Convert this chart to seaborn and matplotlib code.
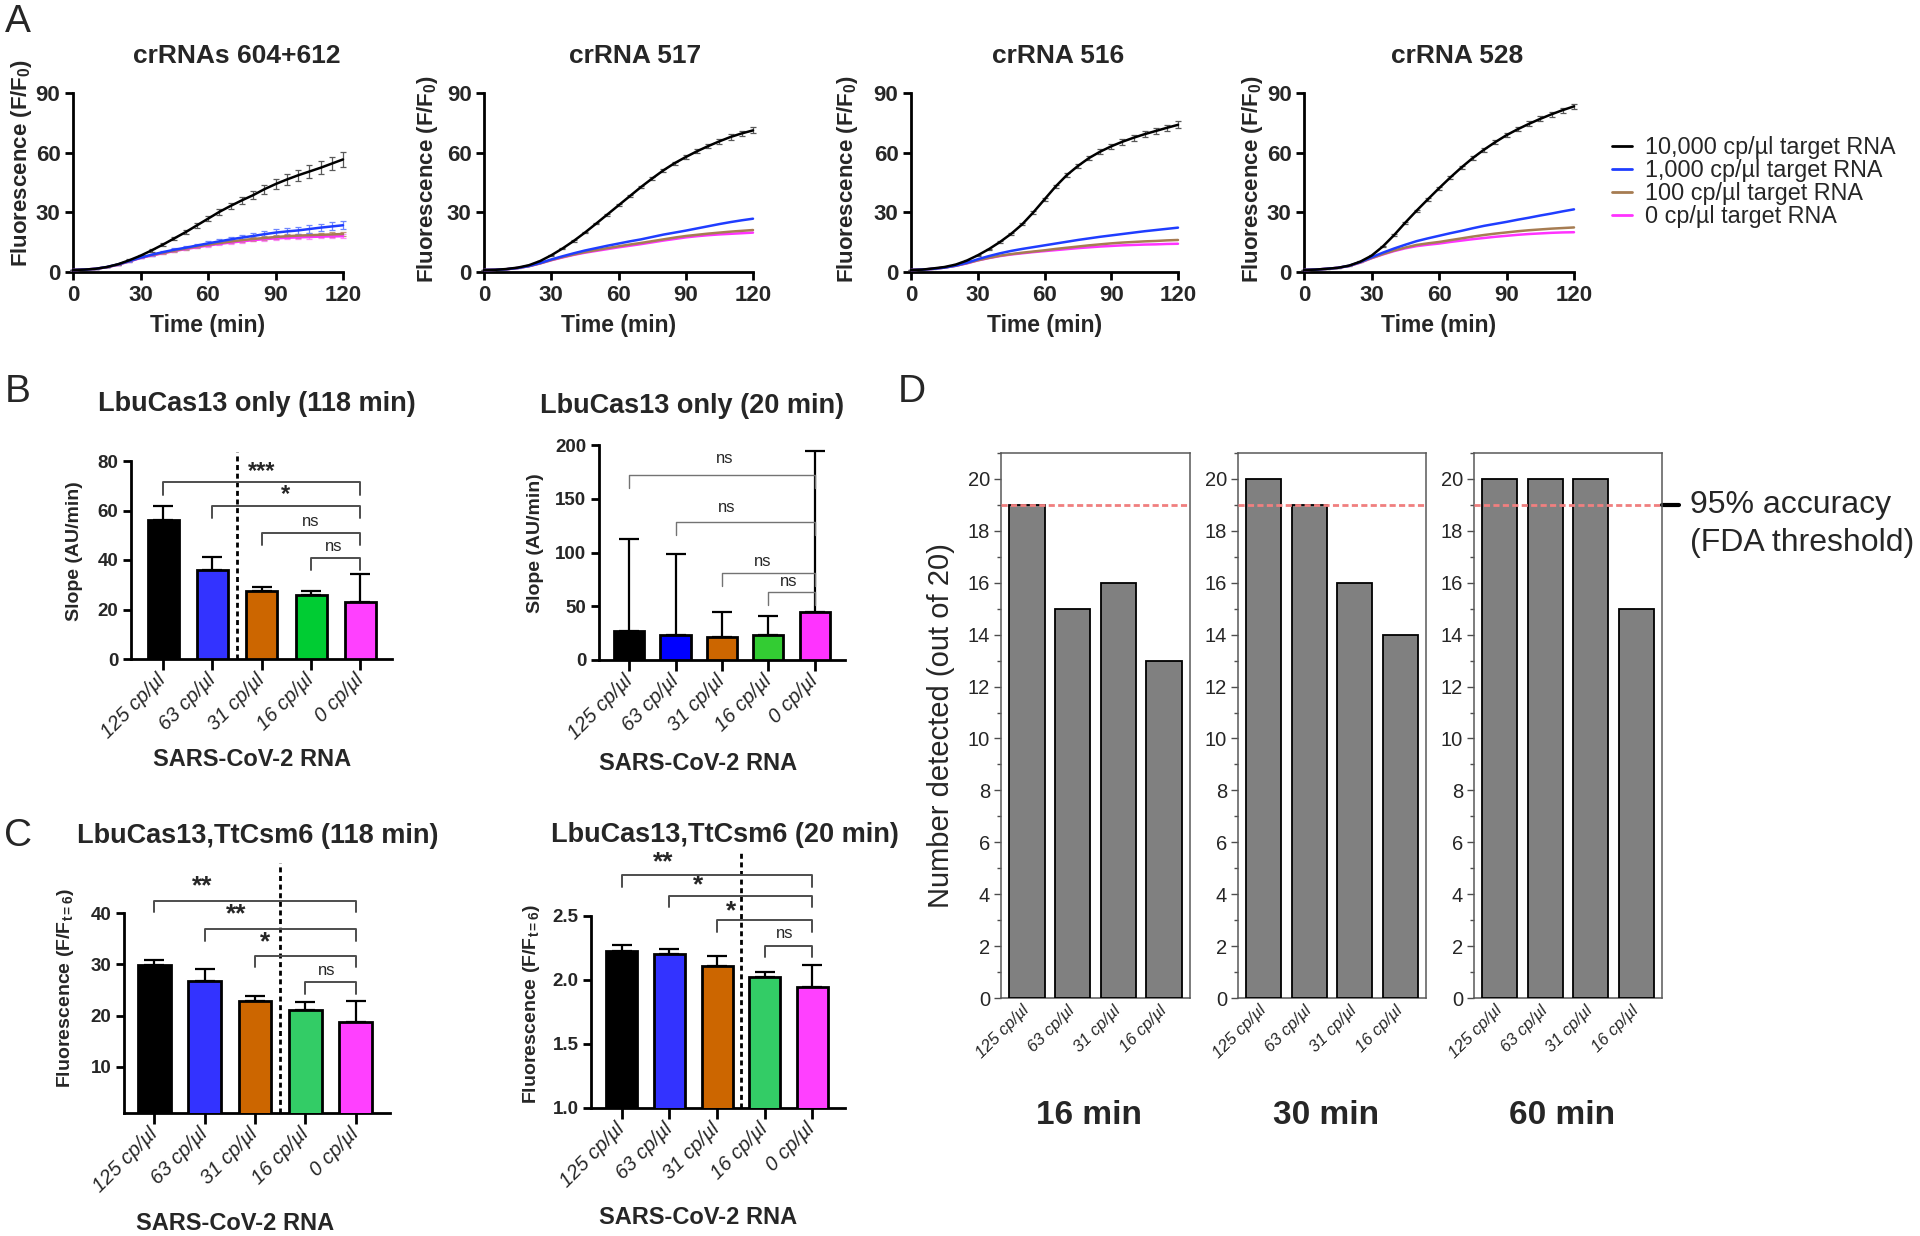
import matplotlib
matplotlib.use('Agg')
import matplotlib.pyplot as plt
import matplotlib.transforms as mtransforms
from matplotlib.lines import Line2D
from matplotlib.ticker import MultipleLocator
import seaborn as sns

sns.set_style('ticks')
plt.rcParams['font.family'] = ['Liberation Sans', 'DejaVu Sans']
plt.rcParams['mathtext.fontset'] = 'custom'
plt.rcParams['mathtext.rm'] = 'Liberation Sans'
plt.rcParams['mathtext.bf'] = 'Liberation Sans:bold'
plt.rcParams['mathtext.it'] = 'Liberation Sans:italic'

# ---------------- data ----------------
minutes = list(range(0, 121, 5))
series_names = ['10,000 cp/µl target RNA', '1,000 cp/µl target RNA',
                '100 cp/µl target RNA', '0 cp/µl target RNA']
line_colors = ['#000000', '#1f3dff', '#a67c52', '#ff33ff']
err_colors = ['0.35', '#6f86ff', '#c49a78', '#ff8cff']

# panel A: crRNAs 604+612
a1_10k = [1.0, 1.2, 1.6, 2.5, 3.9, 5.9, 8.2, 10.9, 13.8, 16.9, 20.0, 23.4, 26.8, 30.2, 33.2, 36.0, 38.6, 41.6, 44.2, 46.5, 48.6, 50.5, 52.4, 54.5, 56.6]
a1_1k = [1.0, 1.2, 1.6, 2.5, 3.8, 5.5, 7.2, 8.7, 10.0, 11.2, 12.2, 13.3, 14.4, 15.4, 16.4, 17.3, 18.1, 19.0, 19.8, 20.4, 20.9, 21.6, 22.3, 22.9, 23.5]
a1_100 = [1.0, 1.2, 1.6, 2.4, 3.7, 5.4, 7.2, 8.5, 9.6, 10.7, 11.8, 12.8, 13.7, 14.5, 15.3, 16.0, 16.6, 17.1, 17.6, 18.0, 18.3, 18.5, 18.7, 18.9, 19.1]
a1_0 = [1.0, 1.2, 1.6, 2.4, 3.6, 5.3, 7.0, 8.3, 9.4, 10.5, 11.5, 12.4, 13.3, 14.1, 14.8, 15.4, 16.0, 16.5, 16.9, 17.2, 17.4, 17.6, 17.8, 17.9, 18.0]
a1_10k_sd = [0.1, 0.1, 0.2, 0.2, 0.3, 0.4, 0.5, 0.6, 0.7, 0.8, 1.0, 1.1, 1.3, 1.5, 1.7, 1.9, 2.1, 2.3, 2.5, 2.7, 2.9, 3.1, 3.3, 3.4, 3.6]
a1_1k_sd = [0.1, 0.1, 0.1, 0.2, 0.2, 0.3, 0.4, 0.5, 0.6, 0.7, 0.8, 0.9, 1.0, 1.1, 1.2, 1.3, 1.4, 1.5, 1.6, 1.7, 1.8, 1.8, 1.9, 2.0, 2.0]
a1_100_sd = [0.1, 0.1, 0.1, 0.1, 0.2, 0.2, 0.3, 0.3, 0.4, 0.4, 0.5, 0.5, 0.6, 0.6, 0.7, 0.7, 0.8, 0.8, 0.9, 0.9, 1.0, 1.0, 1.1, 1.1, 1.2]
a1_0_sd = [0.1, 0.1, 0.1, 0.1, 0.1, 0.2, 0.2, 0.2, 0.3, 0.3, 0.4, 0.4, 0.5, 0.5, 0.5, 0.6, 0.6, 0.7, 0.7, 0.7, 0.8, 0.8, 0.9, 0.9, 1.0]

# crRNA 517
a2_10k = [1.0, 1.1, 1.5, 2.2, 3.4, 5.5, 8.4, 11.8, 15.6, 19.8, 24.3, 28.9, 33.5, 38.1, 42.7, 47.0, 51.1, 54.7, 57.8, 60.7, 63.3, 65.7, 67.9, 69.7, 71.2]
a2_1k = [1.0, 1.1, 1.4, 2.0, 3.0, 4.5, 6.3, 7.9, 9.4, 10.8, 12.0, 13.2, 14.3, 15.4, 16.4, 17.6, 18.8, 19.8, 20.8, 21.9, 23.0, 24.1, 25.1, 26.0, 26.8]
a2_100 = [1.0, 1.1, 1.4, 2.0, 2.9, 4.3, 6.0, 7.5, 8.8, 10.0, 11.0, 12.0, 12.9, 13.8, 14.6, 15.5, 16.4, 17.3, 18.1, 18.7, 19.3, 19.8, 20.3, 20.7, 21.1]
a2_0 = [1.0, 1.1, 1.4, 2.0, 2.9, 4.3, 5.9, 7.3, 8.6, 9.7, 10.6, 11.5, 12.4, 13.2, 14.0, 14.9, 15.8, 16.6, 17.4, 18.0, 18.5, 18.9, 19.2, 19.5, 19.8]
a2_10k_sd = [0.0, 0.0, 0.1, 0.1, 0.1, 0.2, 0.2, 0.3, 0.3, 0.4, 0.4, 0.5, 0.5, 0.6, 0.6, 0.7, 0.8, 0.8, 0.9, 1.0, 1.1, 1.2, 1.3, 1.4, 1.5]

# crRNA 516
a3_10k = [1.0, 1.2, 1.8, 2.5, 3.7, 5.7, 8.4, 11.5, 15.1, 19.2, 24.0, 30.0, 36.5, 43.0, 48.7, 53.3, 57.3, 60.5, 63.2, 65.5, 67.5, 69.3, 70.9, 72.5, 74.0]
a3_1k = [1.0, 1.2, 1.6, 2.2, 3.2, 4.6, 6.4, 8.0, 9.4, 10.6, 11.6, 12.5, 13.4, 14.3, 15.2, 16.1, 16.9, 17.7, 18.4, 19.1, 19.8, 20.5, 21.1, 21.7, 22.3]
a3_100 = [1.0, 1.2, 1.6, 2.2, 3.1, 4.4, 5.9, 7.1, 8.2, 9.0, 9.7, 10.3, 10.9, 11.6, 12.2, 12.8, 13.4, 13.9, 14.4, 14.8, 15.1, 15.4, 15.6, 15.9, 16.1]
a3_0 = [1.0, 1.2, 1.6, 2.2, 3.1, 4.3, 5.8, 7.0, 8.0, 8.8, 9.4, 10.0, 10.5, 11.0, 11.5, 12.0, 12.4, 12.8, 13.1, 13.4, 13.6, 13.8, 13.9, 14.1, 14.2]
a3_10k_sd = [0.0, 0.0, 0.1, 0.1, 0.1, 0.2, 0.2, 0.3, 0.4, 0.5, 0.6, 0.7, 0.8, 0.9, 1.0, 1.1, 1.2, 1.3, 1.4, 1.4, 1.5, 1.5, 1.6, 1.6, 1.7]

# crRNA 528
a4_10k = [1.0, 1.2, 1.6, 2.1, 3.2, 5.2, 8.2, 12.8, 18.5, 24.8, 30.8, 36.5, 42.1, 47.5, 52.6, 57.3, 61.5, 65.3, 68.8, 71.8, 74.5, 77.0, 79.3, 81.4, 83.3]
a4_1k = [1.0, 1.2, 1.6, 2.1, 3.1, 5.0, 7.4, 9.7, 11.8, 13.7, 15.5, 16.9, 18.2, 19.5, 20.7, 22.0, 23.2, 24.2, 25.2, 26.3, 27.3, 28.4, 29.4, 30.5, 31.5]
a4_100 = [1.0, 1.2, 1.6, 2.1, 3.0, 4.8, 7.0, 9.0, 10.8, 12.3, 13.6, 14.4, 15.1, 16.0, 16.9, 17.8, 18.6, 19.3, 19.9, 20.5, 21.0, 21.4, 21.8, 22.1, 22.4]
a4_0 = [1.0, 1.2, 1.6, 2.1, 3.0, 4.7, 6.9, 8.8, 10.5, 11.9, 13.0, 13.7, 14.3, 15.1, 15.8, 16.5, 17.1, 17.7, 18.2, 18.7, 19.1, 19.4, 19.7, 19.9, 20.0]
a4_10k_sd = [0.0, 0.0, 0.1, 0.1, 0.1, 0.2, 0.2, 0.3, 0.4, 0.5, 0.6, 0.7, 0.7, 0.8, 0.9, 0.9, 1.0, 1.0, 1.1, 1.1, 1.2, 1.2, 1.2, 1.3, 1.3]

# panels B, C
conc_labels = ['125 cp/µl', '63 cp/µl', '31 cp/µl', '16 cp/µl', '0 cp/µl']
b1_slope = [56.2, 36.1, 27.5, 25.7, 22.9]
b1_sd = [5.6, 5.2, 1.7, 1.9, 11.6]
b2_slope = [27.3, 23.0, 21.7, 23.0, 44.3]
b2_sd = [85.7, 76.0, 22.6, 18.0, 149.7]
c1_fluor = [29.8, 26.7, 22.9, 21.0, 18.7]
c1_sd = [1.1, 2.3, 0.9, 1.7, 4.1]
c2_fluor = [2.228, 2.207, 2.108, 2.025, 1.947]
c2_sd = [0.042, 0.039, 0.081, 0.039, 0.169]

# brackets: (from, to, height, label, label x, label y)
b1_brackets = [(0, 4, 71.4, '***', 2.0, 75.7), (1, 4, 61.8, '*', 2.48, 66.3),
               (2, 4, 51.0, 'ns', 3.0, 55.5), (3, 4, 40.9, 'ns', 3.46, 45.4)]
b2_brackets = [(0, 4, 172, 'ns', 2.06, 187), (1, 4, 128.7, 'ns', 2.1, 142),
               (2, 4, 80.6, 'ns', 2.88, 92), (3, 4, 63, 'ns', 3.44, 73)]
c1_brackets = [(0, 4, 42.4, '**', 0.96, 45.3), (1, 4, 36.9, '**', 1.62, 39.7),
               (2, 4, 31.7, '*', 2.21, 34.2), (3, 4, 26.5, 'ns', 3.43, 28.8)]
c2_brackets = [(0, 4, 2.817, '**', 0.86, 2.92), (1, 4, 2.66, '*', 1.6, 2.74),
               (2, 4, 2.466, '*', 2.29, 2.54), (3, 4, 2.267, 'ns', 3.42, 2.36)]

# panel D
d_labels = ['125 cp/µl', '63 cp/µl', '31 cp/µl', '16 cp/µl']
d_16min = [19, 15, 16, 13]
d_30min = [20, 19, 16, 14]
d_60min = [20, 20, 20, 15]
d_times = ['16 min', '30 min', '60 min']
fda_threshold = 19

# ---------------- layout helpers ----------------
W, H = 1920, 1236
fig = plt.figure(figsize=(W / 100, H / 100), dpi=100)


def box(l, t, r, b):
    return [l / W, 1 - b / H, (r - l) / W, (b - t) / H]


def ftext(x, y, s, **kw):
    kw.setdefault('ha', 'center')
    kw.setdefault('va', 'center')
    fig.text(x / W, 1 - y / H, s, **kw)


def bold_ticks(ax):
    for lab in ax.get_yticklabels() + ax.get_xticklabels():
        lab.set_fontweight('bold')


# ---------------- panel A ----------------
def kinetics(rect, curves, errs, ylab_xy):
    ax = fig.add_axes(box(*rect))
    for k in [3, 2, 1, 0]:
        if errs[k] is not None:
            ax.errorbar(minutes, curves[k], yerr=errs[k], fmt='none', ecolor=err_colors[k],
                        elinewidth=0.9, capsize=2, capthick=0.9, clip_on=False, zorder=2)
        sns.lineplot(x=minutes, y=curves[k], color=line_colors[k], linewidth=1.8,
                     ax=ax, clip_on=False, zorder=3)
    ax.set_xlim(0, 120)
    ax.set_ylim(0, 90)
    ax.set_xticks([0, 30, 60, 90, 120])
    ax.set_yticks([0, 30, 60, 90])
    ax.tick_params(labelsize=16, length=6, width=2, pad=3, color='black')
    bold_ticks(ax)
    sns.despine(ax=ax)
    for s in ['left', 'bottom']:
        ax.spines[s].set_linewidth(2)
        ax.spines[s].set_color('black')
    ax.set_xlabel('Time (min)', fontsize=16.5, fontweight='bold', labelpad=6)
    ax.set_ylabel(r'Fluorescence (F/F$_{\mathbf{0}}$)', fontsize=16, fontweight='bold')
    ax.yaxis.set_label_coords(*ylab_xy)
    return ax


a_rects = [(73, 93, 343, 272), (484, 93, 753, 272), (911, 93, 1178, 272), (1304, 93, 1574, 272)]
a_titles = ['crRNAs 604+612', 'crRNA 517', 'crRNA 516', 'crRNA 528']
a_title_x = [237, 635, 1058, 1457]
a_curves = [[a1_10k, a1_1k, a1_100, a1_0], [a2_10k, a2_1k, a2_100, a2_0],
            [a3_10k, a3_1k, a3_100, a3_0], [a4_10k, a4_1k, a4_100, a4_0]]
a_errs = [[a1_10k_sd, a1_1k_sd, a1_100_sd, a1_0_sd], [a2_10k_sd, None, None, None],
          [a3_10k_sd, None, None, None], [a4_10k_sd, None, None, None]]
a_ylab_x = [34, 440, 860, 1265]
a_ylab_y = [163, 179, 179, 179]
for rect, title, tx, cur, er, lx, ly in zip(a_rects, a_titles, a_title_x, a_curves, a_errs,
                                            a_ylab_x, a_ylab_y):
    l, t, r, b = rect
    kinetics(rect, cur, er, ((lx - l) / (r - l), (b - ly) / (b - t)))
    ftext(tx, 56, title, fontsize=19, fontweight='bold')

handles = [Line2D([], [], color=c, linewidth=2) for c in line_colors]
fig.legend(handles, series_names, loc='center left', bbox_to_anchor=(1612 / W, 1 - 182 / H),
           frameon=False, fontsize=16.8, handlelength=0.85, handletextpad=0.55,
           labelspacing=0.0, borderpad=0, borderaxespad=0)


# ---------------- panels B and C ----------------
def bar_panel(rect, vals, sds, colors, ylim, yticks, xlim, brackets, leg, style,
              divider_top, ylabel, ylab_xy, bw):
    l, t, r, b = rect
    ax = fig.add_axes(box(*rect))
    ax.errorbar(range(5), vals, yerr=[[0] * 5, sds], fmt='none', ecolor='black',
                elinewidth=1.6, capsize=7, capthick=1.6, zorder=2, clip_on=False)
    sns.barplot(x=conc_labels, y=vals, hue=conc_labels, palette=colors, legend=False,
                saturation=1, width=bw, edgecolor='black', linewidth=2.0, ax=ax, zorder=3)
    ax.set_xlim(*xlim)
    ax.set_ylim(*ylim)
    ax.set_yticks(yticks)
    ax.set_xticks(range(5))
    ax.set_xticklabels(conc_labels, rotation=45, ha='right', va='center',
                       rotation_mode='anchor', fontstyle='italic', fontsize=14.5)
    ax.tick_params(axis='y', labelsize=13.5, length=6, width=2, pad=3, color='black')
    ax.tick_params(axis='x', length=8, width=2, pad=5, color='black')
    for lab in ax.get_yticklabels():
        lab.set_fontweight('bold')
    sns.despine(ax=ax)
    for s in ['left', 'bottom']:
        ax.spines[s].set_linewidth(2)
        ax.spines[s].set_color('black')
    ax.set_xlabel('')
    ax.set_ylabel(ylabel, fontsize=14, fontweight='bold')
    ax.yaxis.set_label_coords((ylab_xy[0] - l) / (r - l), (b - ylab_xy[1]) / (b - t))
    if divider_top is not None:
        ax.plot([divider_top[0]] * 2, [ylim[0], divider_top[1]], color='black',
                linestyle=(0, (1.8, 1.3)), linewidth=2, clip_on=False, zorder=1)
    for i, j, h, lab, tx, ty in brackets:
        star = lab != 'ns'
        ax.plot([i, i, j, j], [h - leg, h, h, h - leg], color=style['color'],
                linewidth=style['lw'], clip_on=False, zorder=4)
        ax.text(tx, ty, lab, ha='center', va='center', clip_on=False,
                fontsize=style['star_fs'] if star else 12,
                fontweight='bold' if star else 'normal')
    return ax


b_colors1 = ['#000000', '#3333ff', '#cc6600', '#00cc33', '#ff40ff']
b_colors2 = ['#000000', '#0000ff', '#cc6600', '#33cc33', '#ff33ff']
c_colors = ['#000000', '#3333ff', '#cc6600', '#33cc66', '#ff40ff']

bar_panel((131, 461, 392, 659), b1_slope, b1_sd, b_colors1, (0, 80), [0, 20, 40, 60, 80],
          (-0.65, 4.64), b1_brackets, 5.0, {'color': '0.3', 'lw': 1.4, 'star_fs': 17},
          (1.5, 83.8), 'Slope (AU/min)', (83, 551), 0.63)
bar_panel((599, 445, 845, 660), b2_slope, b2_sd, b_colors2, (0, 200), [0, 50, 100, 150, 200],
          (-0.65, 4.65), b2_brackets, 12, {'color': '0.45', 'lw': 1.0, 'star_fs': 17},
          None, 'Slope (AU/min)', (544, 543), 0.65)
bar_panel((124, 913, 390, 1113), c1_fluor, c1_sd, c_colors, (1, 40), [10, 20, 30, 40],
          (-0.6, 4.68), c1_brackets, 2.3, {'color': '0.3', 'lw': 1.4, 'star_fs': 19},
          (2.5, 49.7), r'Fluorescence (F/F$_{\mathbf{t=6}}$)', (76, 988), 0.65)
bar_panel((591, 916, 845, 1108), c2_fluor, c2_sd, c_colors, (1.0, 2.5), [1.0, 1.5, 2.0, 2.5],
          (-0.65, 4.69), c2_brackets, 0.088, {'color': '0.3', 'lw': 1.4, 'star_fs': 19},
          (2.5, 2.99), r'Fluorescence (F/F$_{\mathbf{t=6}}$)', (542, 1004), 0.65)

ftext(257, 404, 'LbuCas13 only (118 min)', fontsize=19.5, fontweight='bold')
ftext(692, 406, 'LbuCas13 only (20 min)', fontsize=19.5, fontweight='bold')
ftext(258, 836, 'LbuCas13,TtCsm6 (118 min)', fontsize=19.5, fontweight='bold')
ftext(725, 835, 'LbuCas13,TtCsm6 (20 min)', fontsize=19.5, fontweight='bold')
ftext(252, 760, 'SARS-CoV-2 RNA', fontsize=17, fontweight='bold')
ftext(698, 763, 'SARS-CoV-2 RNA', fontsize=17, fontweight='bold')
ftext(235, 1223, 'SARS-CoV-2 RNA', fontsize=17, fontweight='bold')
ftext(698, 1217, 'SARS-CoV-2 RNA', fontsize=17, fontweight='bold')

# ---------------- panel D ----------------
d_rects = [(1001, 453, 1190, 998), (1238, 453, 1426, 998), (1474, 453, 1662, 998)]
d_counts = [d_16min, d_30min, d_60min]
for k, (rect, counts, name) in enumerate(zip(d_rects, d_counts, d_times)):
    l, t, r, b = rect
    ax = fig.add_axes(box(*rect))
    sns.barplot(x=d_labels, y=counts, color='#808080', saturation=1, width=0.77,
                edgecolor='black', linewidth=1.3, ax=ax, zorder=3)
    ax.axhline(fda_threshold, color='#f07f7f', linestyle=(0, (2.2, 1.2)), linewidth=2, zorder=4)
    ax.set_xlim(-0.57, 3.57)
    ax.set_ylim(0, 21)
    ax.yaxis.set_major_locator(MultipleLocator(2))
    ax.yaxis.set_minor_locator(MultipleLocator(1))
    ax.set_xticks(range(4))
    ax.set_xticklabels(d_labels, rotation=45, ha='right', va='center',
                       rotation_mode='anchor', fontstyle='italic', fontsize=12)
    ax.tick_params(axis='y', which='major', labelsize=14.5, length=5, width=1, color='0.3', pad=3)
    ax.tick_params(axis='y', which='minor', length=3, width=1, color='0.3')
    ax.tick_params(axis='x', length=0, pad=7)
    for s in ax.spines.values():
        s.set_linewidth(1.1)
        s.set_color('0.35')
    ax.set_xlabel('')
    ax.set_ylabel('')
    ftext((l + r) / 2 - 6, 1115, name, fontsize=24, fontweight='bold')
    if k == 0:
        ax.set_ylabel('Number detected (out of 20)', fontsize=21)
        ax.yaxis.set_label_coords((955 - l) / (r - l), 0.5)
    if k == 2:
        tr = mtransforms.blended_transform_factory(ax.transAxes, ax.transData)
        ax.plot([1.0, 1.09], [fda_threshold] * 2, color='black', linewidth=3,
                transform=tr, clip_on=False)
        ax.text(1.15, fda_threshold, '95% accuracy', transform=tr, fontsize=23,
                ha='left', va='center')
        ax.text(1.15, fda_threshold - 1.46, '(FDA threshold)', transform=tr, fontsize=23,
                ha='left', va='center')

# panel letters
ftext(18, 22, 'A', fontsize=28)
ftext(18, 392, 'B', fontsize=28)
ftext(18, 836, 'C', fontsize=28)
ftext(912, 392, 'D', fontsize=28)

fig.savefig('out.png', dpi=100)
